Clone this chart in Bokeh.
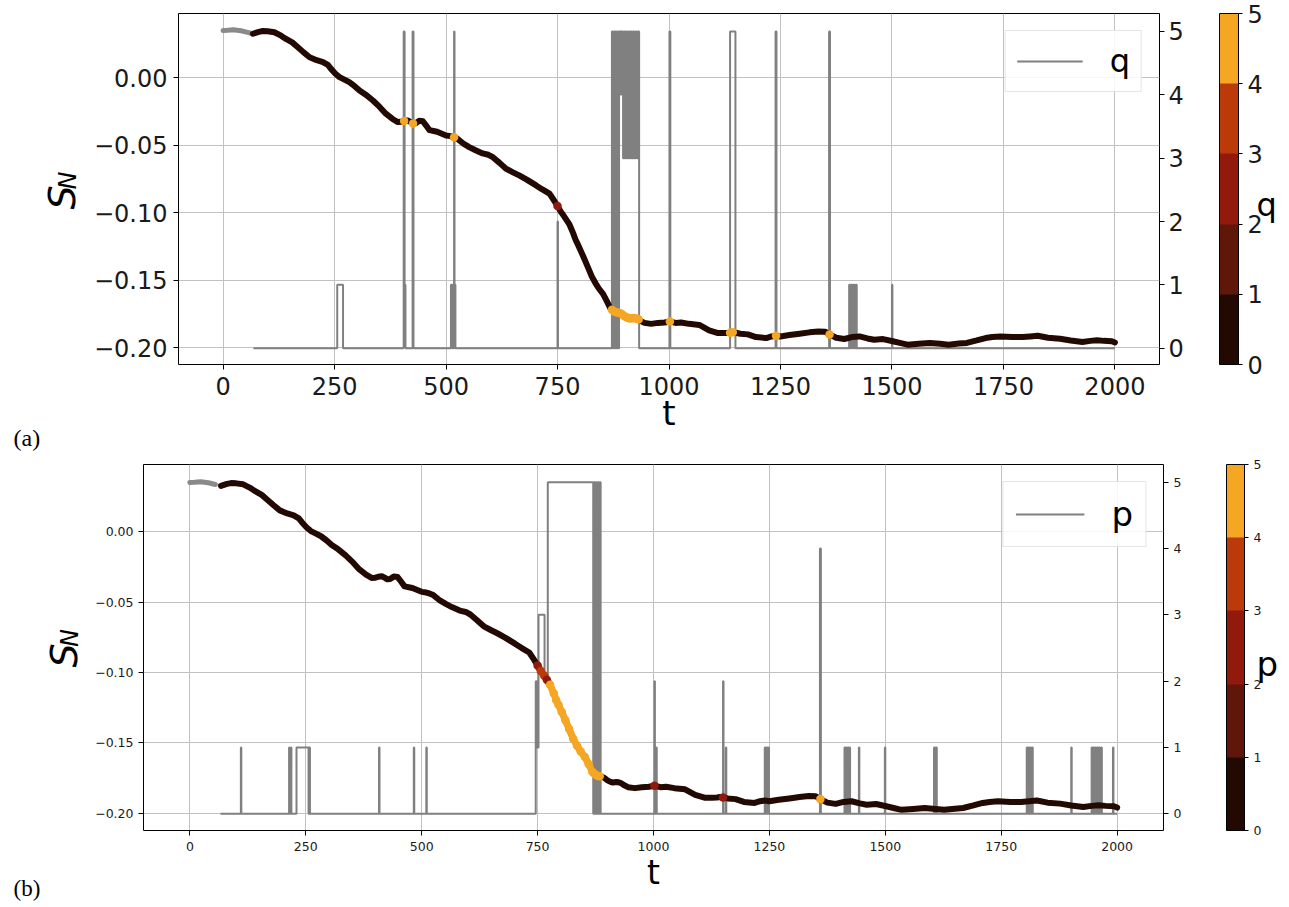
import numpy as np
from bokeh.plotting import figure
from bokeh.models import (Range1d, LinearAxis, FixedTicker, CustomJSTickFormatter,
                          ColorBar, LinearColorMapper, Label)
from bokeh.embed import file_html
from bokeh.resources import INLINE

# ---------------- data ----------------
t_S = [0, 10, 23, 40, 55, 67, 80, 89, 100, 115,
       130, 141, 155, 167, 180, 194, 210, 224, 235, 242,
       252, 261, 270, 283, 295, 306, 320, 336, 350, 365,
       380, 392, 400, 406, 414, 420, 426, 432, 440, 448,
       455, 463, 480, 500, 510, 518, 525, 540, 552, 565,
       582, 595, 605, 620, 634, 650, 664, 680, 702, 715,
       732, 743, 750, 757, 764, 770, 777, 785, 790, 795,
       802, 810, 818, 827, 835, 843, 852, 860, 868, 872,
       876, 880, 884, 888, 892, 896, 900, 904, 908, 912,
       916, 920, 924, 928, 932, 936, 945, 960, 975, 990,
       1002, 1015, 1027, 1045, 1068, 1090, 1110, 1125, 1137, 1143,
       1150, 1160, 1177, 1195, 1218, 1230, 1240, 1250, 1270, 1293,
       1315, 1335, 1350, 1360, 1375, 1393, 1410, 1427, 1445, 1460,
       1480, 1502, 1520, 1535, 1560, 1585, 1608, 1627, 1650, 1668,
       1690, 1710, 1725, 1743, 1770, 1793, 1810, 1827, 1850, 1877,
       1901, 1927, 1945, 1960, 1975, 1993, 2000]
S_N = [0.0350, 0.0352, 0.0356, 0.0348, 0.0336, 0.0326, 0.0340, 0.0346, 0.0344, 0.0337,
       0.0312, 0.0288, 0.0262, 0.0228, 0.0190, 0.0152, 0.0130, 0.0116, 0.0095, 0.0066,
       0.0030, 0.0005, -0.0010, -0.0032, -0.0062, -0.0094, -0.0125, -0.0168, -0.0212, -0.0266,
       -0.0305, -0.0328, -0.0326, -0.0320, -0.0316, -0.0326, -0.0338, -0.0336, -0.0318, -0.0322,
       -0.0352, -0.0388, -0.0400, -0.0427, -0.0432, -0.0440, -0.0450, -0.0490, -0.0513, -0.0535,
       -0.0560, -0.0570, -0.0588, -0.0630, -0.0672, -0.0700, -0.0723, -0.0752, -0.0797, -0.0825,
       -0.0858, -0.0912, -0.0950, -0.0990, -0.1022, -0.1052, -0.1088, -0.1150, -0.1195, -0.1230,
       -0.1280, -0.1340, -0.1402, -0.1472, -0.1520, -0.1562, -0.1600, -0.1650, -0.1705, -0.1718,
       -0.1728, -0.1735, -0.1738, -0.1742, -0.1745, -0.1755, -0.1765, -0.1772, -0.1778, -0.1782,
       -0.1780, -0.1778, -0.1780, -0.1784, -0.1790, -0.1800, -0.1815, -0.1822, -0.1815, -0.1812,
       -0.1805, -0.1815, -0.1812, -0.1822, -0.1830, -0.1870, -0.1890, -0.1890, -0.1888, -0.1885,
       -0.1888, -0.1895, -0.1900, -0.1920, -0.1927, -0.1915, -0.1910, -0.1915, -0.1905, -0.1895,
       -0.1885, -0.1878, -0.1880, -0.1900, -0.1925, -0.1934, -0.1920, -0.1915, -0.1930, -0.1940,
       -0.1935, -0.1951, -0.1965, -0.1976, -0.1970, -0.1963, -0.1970, -0.1976, -0.1968, -0.1963,
       -0.1945, -0.1927, -0.1920, -0.1915, -0.1920, -0.1920, -0.1915, -0.1910, -0.1925, -0.1932,
       -0.1945, -0.1956, -0.1948, -0.1944, -0.1948, -0.1951, -0.1960]

# q level (panel a): change times and values (step "after")
q_t = [68, 256, 269, 405, 407, 409, 425, 427, 511, 513, 515, 517, 518, 519, 521, 750, 751,
       872, 874, 876, 878, 880, 882, 884, 886, 888, 892, 893, 897, 899, 901, 903, 905, 907,
       909, 911, 913, 915, 917, 919, 921, 923, 925, 927, 929, 931, 933,
       1001, 1003, 1137, 1149, 1239, 1241, 1359, 1361,
       1404, 1406, 1408, 1410, 1412, 1414, 1416, 1418, 1420, 1421, 1500, 1501, 2000]
q_v = [0, 1, 0, 5, 1, 0, 5, 0, 1, 0, 1, 0, 5, 1, 0, 2, 0,
       5, 0, 5, 0, 5, 0, 5, 0, 5, 4, 5, 3, 5, 3, 5, 3, 5,
       3, 5, 3, 5, 3, 5, 3, 5, 3, 5, 3, 5, 0,
       5, 0, 5, 0, 5, 0, 5, 0,
       1, 0, 1, 0, 1, 0, 1, 0, 1, 0, 1, 0, 0]

# p level (panel b)
p_t = [66, 110, 111, 214, 215, 218, 219, 230, 256, 257, 259, 408, 409, 483, 484, 510, 511,
       746, 747, 748, 749, 750, 751, 752, 765, 772, 870, 872, 874, 876, 878, 880, 882, 884, 886,
       1002, 1003, 1006, 1007, 1150, 1151, 1156, 1157, 1240, 1242, 1244, 1246, 1248, 1249, 1359, 1361,
       1412, 1414, 1416, 1418, 1420, 1421, 1423, 1424, 1443, 1444, 1499, 1500, 1605, 1607, 1609, 1611,
       1805, 1807, 1809, 1811, 1813, 1815, 1817, 1818, 1901, 1902,
       1945, 1947, 1949, 1951, 1953, 1955, 1957, 1959, 1961, 1963, 1966, 1967, 1991, 1992, 2000]
p_v = [0, 1, 0, 1, 0, 1, 0, 1, 0, 1, 0, 1, 0, 1, 0, 1, 0,
       2, 1, 2, 1, 2, 1, 3, 2, 5, 0, 5, 0, 5, 0, 5, 0, 5, 0,
       2, 0, 1, 0, 2, 0, 1, 0, 1, 0, 1, 0, 1, 0, 4, 0,
       1, 0, 1, 0, 1, 0, 1, 0, 1, 0, 1, 0, 1, 0, 1, 0,
       1, 0, 1, 0, 1, 0, 1, 0, 1, 0,
       1, 0, 1, 0, 1, 0, 1, 0, 1, 0, 1, 0, 1, 0, 0]

x_ticks = [0, 250, 500, 750, 1000, 1250, 1500, 1750, 2000]
s_ticks = [-0.20, -0.15, -0.10, -0.05, 0.00]
level_ticks = [0, 1, 2, 3, 4, 5]
palette = ["#220a02", "#5f1709", "#911a0c", "#bc3a0a", "#f5a623"]

FONT = "DejaVu Sans"
W = 1289


def build(cfg):
    lt = np.array(cfg["lt"], dtype=float)
    lv = np.array(cfg["lv"], dtype=float)
    ts = np.array(t_S, dtype=float)
    ss = np.array(S_N, dtype=float)
    frame_h = cfg["H"] - cfg["bt"] - cfg["bb"]

    p = figure(width=W, height=cfg["H"], x_range=Range1d(-100, 2100),
               y_range=Range1d(*cfg["yr"]), output_backend="svg", toolbar_location=None,
               min_border_left=cfg["bl"], min_border_right=cfg["br"],
               min_border_top=cfg["bt"], min_border_bottom=cfg["bb"])
    p.title.text = ""
    p.outline_line_color = "black"
    p.outline_line_width = 1
    p.outline_line_alpha = 1.0

    xt = FixedTicker(ticks=x_ticks)
    yt = FixedTicker(ticks=s_ticks)
    p.xaxis[0].ticker = xt
    p.xgrid[0].ticker = xt
    p.yaxis[0].ticker = yt
    p.ygrid[0].ticker = yt
    p.yaxis[0].formatter = CustomJSTickFormatter(
        code="return tick.toFixed(2).replace('-', '\\u2212');")
    for g in (p.xgrid[0], p.ygrid[0]):
        g.grid_line_color = "#c2c2c2"
        g.grid_line_width = 1

    p.extra_y_ranges = {"lvl": Range1d(*cfg["lr"])}
    rax = LinearAxis(y_range_name="lvl", ticker=FixedTicker(ticks=level_ticks))
    p.add_layout(rax, "right")

    fs = cfg["fs"]
    for ax, so in ((p.xaxis[0], cfg["so_x"]), (p.yaxis[0], cfg["so_l"]), (rax, cfg["so_r"])):
        ax.major_label_text_font = FONT
        ax.major_label_text_font_size = fs
        ax.major_label_text_color = "#1a1a1a"
        ax.axis_line_color = None
        ax.major_tick_line_color = "black"
        ax.major_tick_out = 5
        ax.major_tick_in = 0
        ax.minor_tick_line_color = None
        ax.major_label_standoff = so

    xa = p.xaxis[0]
    xa.axis_label = "t"
    xa.axis_label_text_font = FONT
    xa.axis_label_text_font_style = "normal"
    xa.axis_label_text_font_size = cfg["tfs"]
    xa.axis_label_text_color = "black"
    xa.axis_label_standoff = cfg["tso"]

    # level step line (right axis)
    p.step(x=lt, y=lv, mode="after", y_range_name="lvl", line_color="#808080",
           line_width=2, legend_label=cfg["name"])

    # S_N curve
    start = lt[0]
    gmask = ts <= start
    dmask = ts >= start - 1
    p.line(ts[gmask], ss[gmask], line_color="#8a8a8a", line_width=5, line_join="round", line_cap="round")
    p.line(ts[dmask], ss[dmask], line_color=palette[0], line_width=6, line_join="round", line_cap="round")

    idx = np.searchsorted(lt, ts, side="right") - 1
    lvl_at = np.where(idx >= 0, lv[np.clip(idx, 0, None)], 0)
    ok = ts >= start
    hi = lvl_at >= 2
    smask = hi[:-1] & hi[1:] & ok[:-1]
    scol = [palette[min(int(v), 4)] for v in lvl_at[:-1][smask]]
    p.segment(x0=ts[:-1][smask], y0=ss[:-1][smask], x1=ts[1:][smask], y1=ss[1:][smask],
              line_color=scol, line_width=7, line_cap="round")
    cmask = hi & ok
    cols = [palette[min(int(v), 4)] for v in lvl_at[cmask]]
    p.scatter(ts[cmask], ss[cmask], size=8.5, fill_color=cols, line_color=None)

    leg = p.legend[0]
    leg.location = "top_right"
    leg.margin = 17
    leg.padding = cfg["lpad"]
    leg.glyph_width = cfg["gw"]
    leg.glyph_height = cfg["gh"]
    leg.label_height = cfg["gh"]
    leg.label_standoff = 27
    leg.spacing = 0
    leg.label_text_font = FONT
    leg.label_text_font_size = cfg["lfs"]
    leg.label_text_color = "black"
    leg.border_line_color = "#cccccc"
    leg.border_line_width = 1
    leg.background_fill_alpha = 0.85

    mapper = LinearColorMapper(palette=palette, low=0, high=5)
    cb = ColorBar(color_mapper=mapper, location=(cfg["cbx"], 0), width=cfg["cbw"],
                  height=frame_h, padding=0, margin=0,
                  ticker=FixedTicker(ticks=level_ticks),
                  major_label_text_font=FONT, major_label_text_font_size=fs,
                  major_label_text_color="#1a1a1a",
                  major_tick_in=0, major_tick_out=4, major_tick_line_color="black",
                  bar_line_color="black", bar_line_width=1, label_standoff=5,
                  background_fill_alpha=0, border_line_color=None)
    p.add_layout(cb)

    # free texts in side panels (each side slice origin: its left edge, frame bottom)
    def txt(place, x, y, text, size, angle=0.0, align="center", base="middle",
            style="normal", font=FONT):
        p.add_layout(Label(x=x, y=y, x_units="screen", y_units="screen", text=text,
                           angle=angle, text_font=font, text_font_size=size,
                           text_align=align, text_baseline=base, text_font_style=style,
                           text_color="black"), place)

    fb = cfg["fbot"]
    txt("left", cfg["S"][0], fb - cfg["S"][1], "S", "38px", angle=np.pi / 2, style="italic")
    txt("left", cfg["N"][0], fb - cfg["N"][1], "N", "24px", angle=np.pi / 2, style="italic")
    txt("right", cfg["C"][0], fb - cfg["C"][1], cfg["name"], cfg["lfs"], align="left",
        base="alphabetic")
    txt("right", cfg["P"][0], fb - cfg["P"][1], cfg["panel"], cfg["pfs"], align="left",
        font="Liberation Serif")
    return p


cfg_a = dict(lt=q_t, lv=q_v, name="q", panel="(a)", H=455, bl=178, br=130, bt=13, bb=91,
             yr=(-0.2123, 0.0476), lr=(-0.257, 5.284), fs="24px",
             so_x=7, so_l=6, so_r=4, lpad=11, gw=66, gh=32, lfs="32px",
             cbx=1041, cbw=19, tfs="34px", tso=-5, fbot=364,
             S=(65 - 50, 197), N=(70 - 21, 180), C=(1253 - 1183, 204),
             P=(10 - 1203, 437), pfs="24px")
cfg_b = dict(lt=p_t, lv=p_v, name="p", panel="(b)", H=451, bl=143, br=126, bt=9, bb=76,
             yr=(-0.2123, 0.0478), lr=(-0.252, 5.267), fs="12.5px",
             so_x=6, so_l=5, so_r=5, lpad=12, gw=69, gh=34, lfs="34px",
             cbx=1083, cbw=18, tfs="33px", tso=-1, fbot=830 - 455,
             S=(66 - 51, 655 - 455), N=(71.5 - 22, 637.5 - 455), C=(1253 - 1181, 663 - 455),
             P=(10 - 1203, 888 - 455), pfs="23px")

pa = build(cfg_a)
pb = build(cfg_b)

open("out.html", "w").write(file_html([pa, pb], INLINE, title="S_N vs t"))
